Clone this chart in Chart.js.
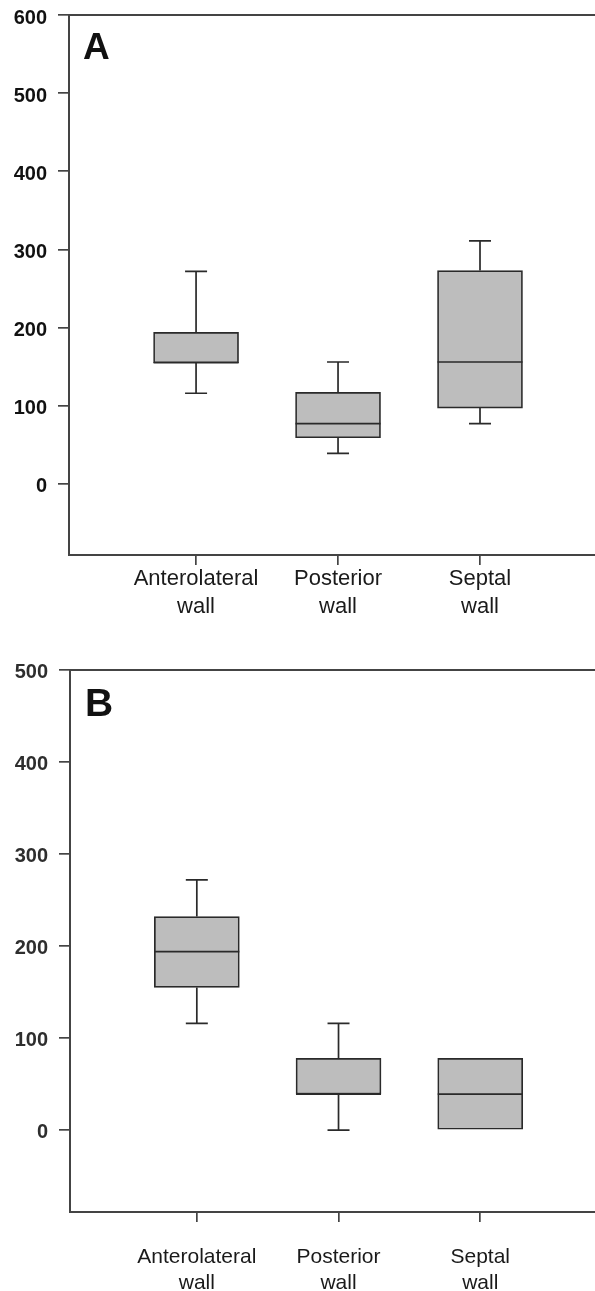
<!DOCTYPE html>
<html>
<head>
<meta charset="utf-8">
<script src="https://cdn.jsdelivr.net/npm/chart.js"></script>
<style>
  html, body { margin: 0; padding: 0; background: #ffffff; }
  #wrap { position: relative; width: 595px; height: 1291px; overflow: hidden; }
  canvas { position: absolute; left: 0; }
</style>
</head>
<body>
<div id="wrap">
  <canvas id="chartA" width="595" height="640" style="top:0px"></canvas>
  <canvas id="chartB" width="595" height="651" style="top:640px"></canvas>
</div>
<script>
// ---------------- data ----------------
const categories = ["Anterolateral wall", "Posterior wall", "Septal wall"];

const panelATicks = [0, 100, 200, 300, 400, 500, 600];
const panelA_min    = [116, 39, 77];
const panelA_q1     = [155, 59, 97];
const panelA_median = [155, 77, 156];
const panelA_q3     = [194, 117, 273];
const panelA_max    = [272, 156, 311];

const panelBTicks = [0, 100, 200, 300, 400, 500];
const panelB_min    = [116, 0, 0];
const panelB_q1     = [155, 39, 0];
const panelB_median = [194, 39, 39];
const panelB_q3     = [232, 78, 78];
const panelB_max    = [272, 116, 78];

// ---------------- rendering ----------------
const FONT = "'Liberation Sans', Arial, Helvetica, sans-serif";
const AXIS = '#444444';
const INK = '#2a2a2a';

function boxPlugin(stats, letter, style) {
  return {
    id: 'boxWhiskers',
    afterDatasetsDraw(chart) {
      const ctx = chart.ctx;
      const xs = chart.scales.x, ys = chart.scales.y;
      const area = chart.chartArea;
      const meta = chart.getDatasetMeta(0);
      ctx.save();
      ctx.strokeStyle = INK;
      ctx.lineWidth = 1.7;
      ctx.lineCap = 'butt';
      categories.forEach((c, i) => {
        const cx = xs.getPixelForValue(i + 1);
        const bar = meta.data[i];
        const half = bar.width / 2;
        const capHalf = 11;
        const yMin = ys.getPixelForValue(stats.min[i]);
        const yQ1 = ys.getPixelForValue(stats.q1[i]);
        const yMed = ys.getPixelForValue(stats.median[i]);
        const yQ3 = ys.getPixelForValue(stats.q3[i]);
        const yMax = ys.getPixelForValue(stats.max[i]);
        ctx.beginPath();
        if (stats.max[i] > stats.q3[i]) {
          ctx.moveTo(cx, yQ3); ctx.lineTo(cx, yMax);
          ctx.moveTo(cx - capHalf, yMax); ctx.lineTo(cx + capHalf, yMax);
        }
        if (stats.min[i] < stats.q1[i]) {
          ctx.moveTo(cx, yQ1); ctx.lineTo(cx, yMin);
          ctx.moveTo(cx - capHalf, yMin); ctx.lineTo(cx + capHalf, yMin);
        }
        ctx.moveTo(cx - half, yMed); ctx.lineTo(cx + half, yMed);
        ctx.stroke();
      });
      // top frame line
      ctx.strokeStyle = AXIS;
      ctx.lineWidth = 2;
      ctx.beginPath();
      ctx.moveTo(area.left, area.top);
      ctx.lineTo(area.right, area.top);
      ctx.stroke();
      // panel letter
      ctx.fillStyle = '#111111';
      ctx.font = 'bold ' + style.letterSize + 'px ' + FONT;
      ctx.textBaseline = 'alphabetic';
      ctx.textAlign = 'left';
      ctx.fillText(letter, area.left + style.letterDx, area.top + style.letterDy);
      ctx.restore();
    }
  };
}

function buildChart(id, stats, tickValues, letter, style) {
  const boxes = categories.map((c, i) => ({ x: i + 1, y: [stats.q1[i], stats.q3[i]] }));
  return new Chart(document.getElementById(id), {
    type: 'bar',
    data: {
      datasets: [{
        data: boxes,
        backgroundColor: '#bdbdbd',
        borderColor: INK,
        borderWidth: 1.7,
        borderSkipped: false,
        barThickness: 85
      }]
    },
    options: {
      responsive: false,
      animation: false,
      devicePixelRatio: 1,
      layout: { padding: { top: style.padTop, left: 0, right: 0, bottom: 0 } },
      plugins: { legend: { display: false }, tooltip: { enabled: false } },
      scales: {
        x: {
          type: 'linear',
          offset: false,
          min: 0.105,
          max: 3.81,
          afterBuildTicks: (s) => { s.ticks = categories.map((c, i) => ({ value: i + 1 })); },
          afterFit: (s) => { s.height = style.xHeight; s.paddingLeft = 0; s.paddingRight = 0; },
          ticks: {
            callback: (v, i) => categories[i].split(' '),
            font: { family: FONT, size: style.xFont, lineHeight: style.xLine },
            color: '#1a1a1a',
            padding: style.xPad,
            maxRotation: 0,
            autoSkip: false
          },
          grid: { offset: false, drawOnChartArea: false, drawTicks: true, tickLength: 10, color: AXIS, lineWidth: 1.7 },
          border: { display: true, color: AXIS, width: 2 }
        },
        y: {
          type: 'linear',
          min: style.yMin,
          max: style.yMax,
          afterBuildTicks: (s) => { s.ticks = tickValues.map(v => ({ value: v })); },
          afterFit: (s) => { s.width = style.yWidth; s.paddingTop = 0; s.paddingBottom = 0; },
          ticks: {
            font: { family: FONT, size: 20, weight: 'bold' },
            color: style.yColor,
            padding: 11,
            labelOffset: style.yLabelOffset
          },
          grid: { drawOnChartArea: false, drawTicks: true, tickLength: 11, color: AXIS, lineWidth: 1.7 },
          border: { display: true, color: AXIS, width: 2 }
        }
      }
    },
    plugins: [boxPlugin(stats, letter, style)]
  });
}

buildChart('chartA',
  { min: panelA_min, q1: panelA_q1, median: panelA_median, q3: panelA_q3, max: panelA_max },
  panelATicks, 'A',
  { padTop: 15, xHeight: 85, yWidth: 69, yMin: -91, yMax: 600, xFont: 22, xLine: 1.27, xPad: 0,
    yColor: '#111111', yLabelOffset: 3, letterSize: 37, letterDx: 14, letterDy: 44 });

buildChart('chartB',
  { min: panelB_min, q1: panelB_q1, median: panelB_median, q3: panelB_q3, max: panelB_max },
  panelBTicks, 'B',
  { padTop: 30, xHeight: 79, yWidth: 70, yMin: -89, yMax: 500, xFont: 21, xLine: 1.24, xPad: 22,
    yColor: '#2e2e2e', yLabelOffset: 2, letterSize: 39, letterDx: 15, letterDy: 46 });
</script>
</body>
</html>
